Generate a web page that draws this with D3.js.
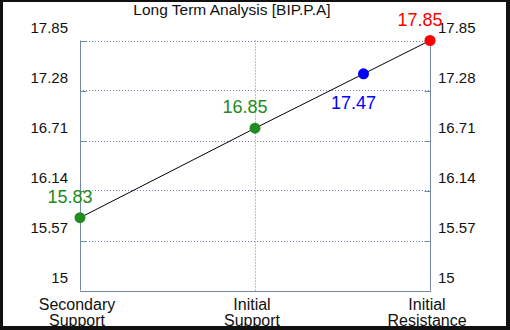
<!DOCTYPE html>
<html>
<head>
<meta charset="utf-8">
<script src="https://cdn.jsdelivr.net/npm/d3@7"></script>
<style>
  body { margin: 0; background: #111; }
  svg { display: block; font-family: "Liberation Sans", Arial, sans-serif; }
</style>
</head>
<body>
<div id="chart"></div>
<script>
const width = 510;
const height = 330;

const title = "Long Term Analysis [BIP.P.A]";
const categories = [["Secondary", "Support"], ["Initial", "Support"], ["Initial", "Resistance"]];
const yTicks = [15, 15.57, 16.14, 16.71, 17.28, 17.85];
const levelNames = ["Secondary Support", "Initial Support", "Current", "Initial Resistance"];
const levelValues = [15.83, 16.85, 17.47, 17.85];
const levelColors = ["#228b22", "#228b22", "#0000ff", "#ff0000"];

const margin = { top: 40.5, right: 80, bottom: 39.5, left: 80 };

const svg = d3.select("#chart")
  .append("svg")
  .attr("width", width)
  .attr("height", height);

// white panel inside the dark frame
svg.append("rect")
  .attr("x", 3)
  .attr("y", 2)
  .attr("width", width - 7)
  .attr("height", height - 6)
  .attr("fill", "#fff");

const x = d3.scaleLinear()
  .domain([0, categories.length - 1])
  .range([margin.left, width - margin.right]);

const y = d3.scaleLinear()
  .domain([yTicks[0], yTicks[yTicks.length - 1]])
  .range([height - margin.bottom, margin.top]);

// the current price sits between initial support and initial resistance
const levelX = levelValues.map((v, i) => {
  if (i < 2) return i;
  if (i === 3) return 2;
  return 1 + (v - levelValues[1]) / (levelValues[3] - levelValues[1]);
});

const axisColor = "#7388a6";

// horizontal dotted grid
svg.append("g")
  .selectAll("line")
  .data(yTicks.slice(1))
  .join("line")
  .attr("x1", x(0))
  .attr("x2", x(2))
  .attr("y1", d => Math.round(y(d)) + 0.5)
  .attr("y2", d => Math.round(y(d)) + 0.5)
  .attr("stroke", axisColor)
  .attr("stroke-width", 1)
  .attr("stroke-dasharray", "1,2");

// vertical dotted grid
svg.append("line")
  .attr("x1", x(1) + 0.5)
  .attr("x2", x(1) + 0.5)
  .attr("y1", y(yTicks[yTicks.length - 1]))
  .attr("y2", y(yTicks[0]))
  .attr("stroke", axisColor)
  .attr("stroke-dasharray", "1,2");

// axes
const leftAxis = d3.axisLeft(y).tickValues(yTicks).tickSize(-6).tickFormat("");
const rightAxis = d3.axisRight(y).tickValues(yTicks).tickSize(-6).tickFormat("");

const gl = svg.append("g")
  .attr("transform", `translate(${Math.round(x(0)) + 0.5},0.5)`)
  .call(leftAxis);
const gr = svg.append("g")
  .attr("transform", `translate(${Math.round(x(2)) + 0.5},0.5)`)
  .call(rightAxis);
[gl, gr].forEach(g => {
  g.select(".domain").remove();
  g.selectAll("line").attr("stroke", axisColor);
});

svg.append("line")
  .attr("x1", Math.round(x(0)) + 0.5)
  .attr("x2", Math.round(x(0)) + 0.5)
  .attr("y1", y(yTicks[yTicks.length - 1]))
  .attr("y2", y(yTicks[0]))
  .attr("stroke", axisColor);
svg.append("line")
  .attr("x1", Math.round(x(2)) + 0.5)
  .attr("x2", Math.round(x(2)) + 0.5)
  .attr("y1", y(yTicks[yTicks.length - 1]))
  .attr("y2", y(yTicks[0]))
  .attr("stroke", axisColor);
svg.append("line")
  .attr("x1", x(0))
  .attr("x2", x(2) + 1)
  .attr("y1", Math.round(y(yTicks[0])) + 0.5)
  .attr("y2", Math.round(y(yTicks[0])) + 0.5)
  .attr("stroke", axisColor);

// y tick labels, both sides
svg.append("g")
  .selectAll("text")
  .data(yTicks)
  .join("text")
  .attr("x", x(0) - 12)
  .attr("y", d => y(d) - 8)
  .attr("text-anchor", "end")
  .attr("font-size", 15)
  .attr("fill", "#111")
  .text(d => d);

svg.append("g")
  .selectAll("text")
  .data(yTicks)
  .join("text")
  .attr("x", x(2) + 8)
  .attr("y", d => y(d) - 8)
  .attr("text-anchor", "start")
  .attr("font-size", 15)
  .attr("fill", "#111")
  .text(d => d);

// x category labels
const xl = svg.append("g")
  .selectAll("text")
  .data(categories)
  .join("text")
  .attr("x", (d, i) => x(i) - 3)
  .attr("y", 310)
  .attr("text-anchor", "middle")
  .attr("font-size", 16)
  .attr("fill", "#111");
xl.selectAll("tspan")
  .data(d => d)
  .join("tspan")
  .attr("x", function() { return d3.select(this.parentNode).attr("x"); })
  .attr("dy", (d, i) => i === 0 ? 0 : 16)
  .text(d => d);

// connecting line
const line = d3.line()
  .x((d, i) => x(levelX[i]))
  .y(d => y(d));

svg.append("path")
  .datum(levelValues)
  .attr("d", line)
  .attr("fill", "none")
  .attr("stroke", "#000")
  .attr("stroke-width", 1);

// points
svg.append("g")
  .selectAll("circle")
  .data(levelValues)
  .join("circle")
  .attr("cx", (d, i) => x(levelX[i]))
  .attr("cy", d => y(d))
  .attr("r", 5.5)
  .attr("fill", (d, i) => levelColors[i]);

// value labels
svg.append("g")
  .selectAll("text")
  .data(levelValues)
  .join("text")
  .attr("x", (d, i) => x(levelX[i]) - 10)
  .attr("y", (d, i) => levelNames[i] === "Current" ? y(d) + 35 : y(d) - 15)
  .attr("text-anchor", "middle")
  .attr("font-size", 18)
  .attr("fill", (d, i) => levelColors[i])
  .text(d => d.toFixed(2));

// title
svg.append("text")
  .attr("x", 232)
  .attr("y", 15)
  .attr("text-anchor", "middle")
  .attr("font-size", 15.5)
  .attr("fill", "#111")
  .text(title);
</script>
</body>
</html>
